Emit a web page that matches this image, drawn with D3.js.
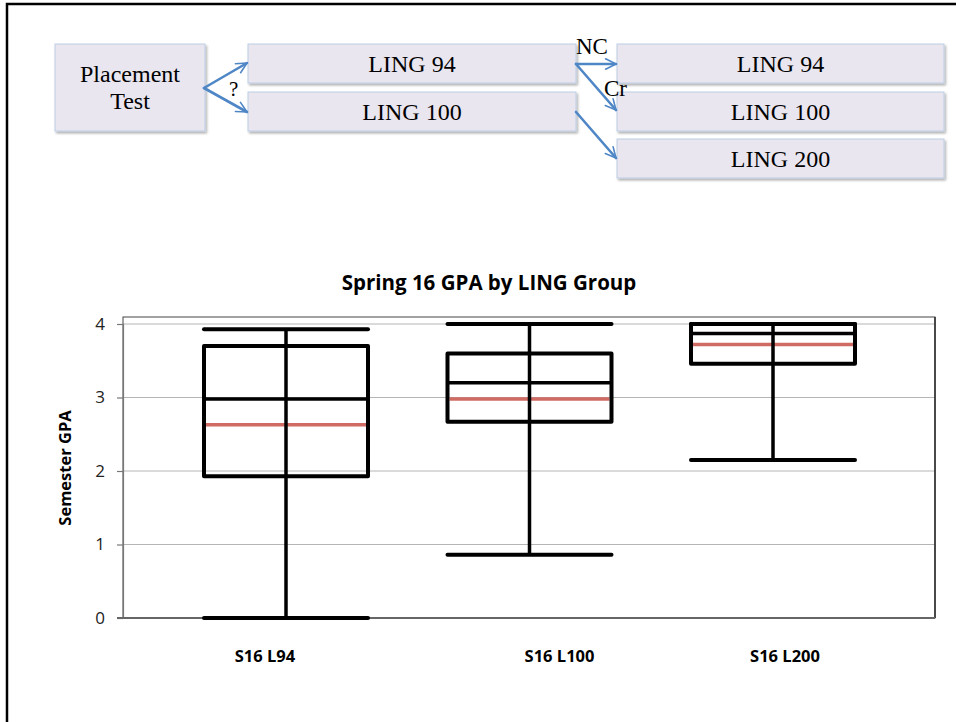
<!DOCTYPE html>
<html>
<head>
<meta charset="utf-8">
<script src="https://cdn.jsdelivr.net/npm/d3@7"></script>
<style>
  html, body { margin: 0; padding: 0; background: #fff; }
  svg { display: block; }
</style>
</head>
<body>
<figure style="margin:0"></figure>
<script>
// chart data
const title = "Spring 16 GPA by LING Group";
const yLabel = "Semester GPA";
const categories = ["S16 L94", "S16 L100", "S16 L200"];
const maxima = [3.93, 4.0, 4.0];
const q3s = [3.7, 3.6, 4.0];
const medians = [2.98, 3.2, 3.87];
const means = [2.63, 2.98, 3.72];
const q1s = [1.93, 2.67, 3.46];
const minima = [0.0, 0.86, 2.15];
const yTicks = [0, 1, 2, 3, 4];

// flowchart text
const flowNodes = [
  { lines: ["Placement", "Test"], x: 55, y: 44, w: 150, h: 87 },
  { lines: ["LING 94"], x: 248, y: 44, w: 328, h: 39 },
  { lines: ["LING 100"], x: 248, y: 92, w: 328, h: 39 },
  { lines: ["LING 94"], x: 617, y: 44, w: 327, h: 39 },
  { lines: ["LING 100"], x: 617, y: 92, w: 327, h: 39 },
  { lines: ["LING 200"], x: 617, y: 139, w: 327, h: 39 },
];
const flowArrows = [
  [204, 88, 247, 63],
  [204, 88, 247, 112],
  [576, 64, 616, 64],
  [576, 64, 616, 110],
  [576, 112, 616, 158],
];
const flowNotes = [
  { text: "?", x: 229, y: 96, size: 21 },
  { text: "NC", x: 576, y: 54, size: 23 },
  { text: "Cr", x: 604, y: 96, size: 23 },
];

const width = 956;
const height = 722;
const serif = "'Liberation Serif', 'Times New Roman', serif";
const sans = "'Open Sans', sans-serif";
const arrowColor = "#4f86c6";

const svg = d3.select("figure").append("svg")
  .attr("width", width).attr("height", height);

const defs = svg.append("defs");
defs.append("filter").attr("id", "shadow")
  .attr("x", "-5%").attr("y", "-10%").attr("width", "115%").attr("height", "140%")
  .append("feDropShadow")
  .attr("dx", 1.5).attr("dy", 2).attr("stdDeviation", 1.2)
  .attr("flood-color", "#000").attr("flood-opacity", 0.3);
defs.append("marker").attr("id", "arrow")
  .attr("viewBox", "0 0 10 10").attr("refX", 9).attr("refY", 5)
  .attr("markerWidth", 5).attr("markerHeight", 5)
  .attr("markerUnits", "strokeWidth").attr("orient", "auto")
  .append("path").attr("d", "M1,1 L9,5 L1,9")
  .attr("fill", "none").attr("stroke", arrowColor).attr("stroke-width", 1.2)
  .attr("stroke-linecap", "round").attr("stroke-linejoin", "round");

// outer frame (cut off at right and bottom)
svg.append("rect")
  .attr("x", 7).attr("y", 4).attr("width", 980).attr("height", 760)
  .attr("fill", "none").attr("stroke", "#000").attr("stroke-width", 2.5);

// flowchart
const nodes = svg.append("g").selectAll("g").data(flowNodes).join("g");
nodes.append("rect")
  .attr("x", (d) => d.x).attr("y", (d) => d.y)
  .attr("width", (d) => d.w).attr("height", (d) => d.h)
  .attr("fill", "#e9e6f0").attr("stroke", "#bccde4").attr("stroke-width", 1)
  .attr("filter", "url(#shadow)");
nodes.each(function (d) {
  const g = d3.select(this);
  const lh = 27;
  const y0 = d.y + d.h / 2 + 8 - ((d.lines.length - 1) * lh) / 2;
  d.lines.forEach((line, i) => {
    g.append("text")
      .attr("x", d.x + d.w / 2).attr("y", y0 + i * lh)
      .attr("text-anchor", "middle")
      .attr("font-family", serif).attr("font-size", 24)
      .attr("fill", "#000").text(line);
  });
});

svg.append("g").selectAll("line").data(flowArrows).join("line")
  .attr("x1", (d) => d[0]).attr("y1", (d) => d[1])
  .attr("x2", (d) => d[2]).attr("y2", (d) => d[3])
  .attr("stroke", arrowColor).attr("stroke-width", 2.6)
  .attr("stroke-linecap", "round")
  .attr("marker-end", "url(#arrow)");

svg.append("g").selectAll("text").data(flowNotes).join("text")
  .attr("x", (d) => d.x).attr("y", (d) => d.y)
  .attr("font-family", serif).attr("font-size", (d) => d.size)
  .text((d) => d.text);

// box plot
const plot = { left: 123, right: 935, top: 317, bottom: 618 };
const boxW = 164;
const y = d3.scaleLinear().domain([0, 4]).range([plot.bottom, 324]);
const x = d3.scalePoint().domain(categories).range([286, 773]);
const labelNudge = [-21, 30, 12];

svg.append("text")
  .attr("x", 489).attr("y", 290)
  .attr("text-anchor", "middle")
  .attr("font-family", sans).attr("font-weight", "bold").attr("font-size", 20.5)
  .text(title);

svg.append("g").selectAll("line").data(yTicks.filter((t) => t > 0)).join("line")
  .attr("x1", plot.left).attr("x2", plot.right)
  .attr("y1", (d) => y(d)).attr("y2", (d) => y(d))
  .attr("stroke", "#b5b5b5").attr("stroke-width", 1.2);

svg.append("rect")
  .attr("x", plot.left).attr("y", plot.top)
  .attr("width", plot.right - plot.left).attr("height", plot.bottom - plot.top)
  .attr("fill", "none").attr("stroke", "#444").attr("stroke-width", 1);
svg.append("line")
  .attr("x1", plot.right).attr("x2", plot.right)
  .attr("y1", plot.top).attr("y2", plot.bottom)
  .attr("stroke", "#333").attr("stroke-width", 1.6);

const yAxis = svg.append("g")
  .attr("transform", `translate(${plot.left},0)`)
  .call(d3.axisLeft(y).tickValues(yTicks).tickSize(6).tickPadding(12).tickFormat(d3.format("d")));
yAxis.select(".domain").attr("stroke", "#777").attr("stroke-width", 1.2);
yAxis.selectAll(".tick line").attr("stroke", "#777").attr("stroke-width", 1.2);
yAxis.selectAll(".tick text")
  .attr("font-family", sans).attr("font-size", 17).attr("fill", "#222");

svg.append("line")
  .attr("x1", plot.left - 6).attr("x2", plot.right)
  .attr("y1", y(0)).attr("y2", y(0))
  .attr("stroke", "#666").attr("stroke-width", 2);

const boxes = svg.append("g").selectAll("g").data(categories).join("g");
boxes.each(function (c, i) {
  const g = d3.select(this);
  const cx = x(c);
  const x0 = cx - boxW / 2;
  const x1 = cx + boxW / 2;
  g.append("line")
    .attr("x1", x0 + 2).attr("x2", x1 - 2)
    .attr("y1", y(means[i])).attr("y2", y(means[i]))
    .attr("stroke", "#cf6b62").attr("stroke-width", 3.5);
  g.append("line")
    .attr("x1", x0).attr("x2", x1)
    .attr("y1", y(medians[i])).attr("y2", y(medians[i]))
    .attr("stroke", "#000").attr("stroke-width", 3.5);
  g.append("line")
    .attr("x1", cx).attr("x2", cx)
    .attr("y1", y(minima[i])).attr("y2", y(maxima[i]))
    .attr("stroke", "#000").attr("stroke-width", 3.5);
  g.append("rect")
    .attr("x", x0).attr("y", y(q3s[i]))
    .attr("width", boxW).attr("height", y(q1s[i]) - y(q3s[i]))
    .attr("fill", "none").attr("stroke", "#000").attr("stroke-width", 4)
    .attr("stroke-linejoin", "round");
  [minima[i], maxima[i]].forEach((v) => {
    g.append("line")
      .attr("x1", x0).attr("x2", x1)
      .attr("y1", y(v)).attr("y2", y(v))
      .attr("stroke", "#000").attr("stroke-width", 4)
      .attr("stroke-linecap", "round");
  });
  g.append("text")
    .attr("x", cx + labelNudge[i]).attr("y", 662)
    .attr("text-anchor", "middle")
    .attr("font-family", sans).attr("font-weight", "bold").attr("font-size", 16.5)
    .text(c);
});

svg.append("text")
  .attr("transform", `translate(71,468) rotate(-90)`)
  .attr("text-anchor", "middle")
  .attr("font-family", sans).attr("font-weight", "bold").attr("font-size", 16.5)
  .text(yLabel);
</script>
</body>
</html>
